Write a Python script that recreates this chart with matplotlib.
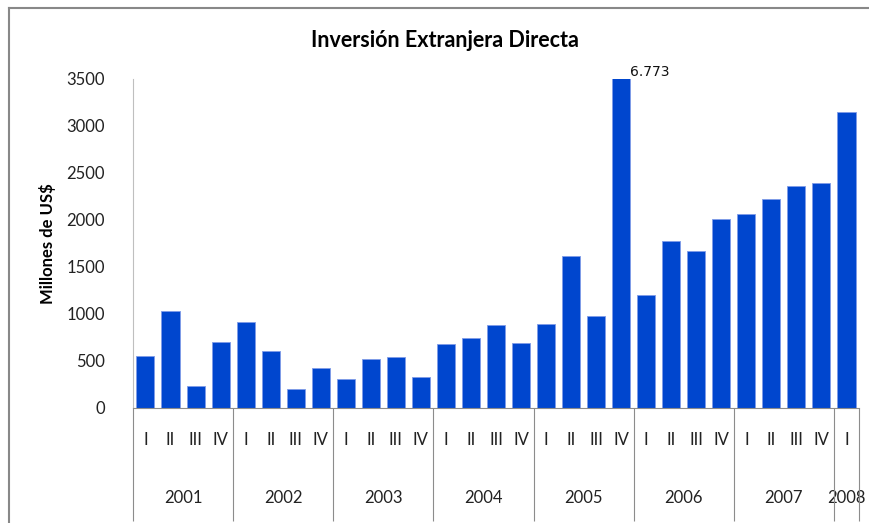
import matplotlib.pyplot as plt
from matplotlib.ticker import FixedLocator

plt.rcParams['font.family'] = ['Lato', 'DejaVu Sans']

# datos trimestrales (millones de US$), 2001-I a 2008-I
years = ['2001', '2002', '2003', '2004', '2005', '2006', '2007', '2008']
quarters = ['I', 'II', 'III', 'IV'] * 7 + ['I']
values = [553, 1037, 230, 705,
          914, 602, 198, 425,
          311, 521, 542, 333,
          684, 747, 882, 694,
          893, 1616, 974, 6773,
          1201, 1781, 1669, 2009,
          2062, 2228, 2360, 2391,
          3146]
peak_label = '6.773'

n = len(values)
x = list(range(n))

fig = plt.figure(figsize=(8.69, 5.23), dpi=100)
ax = fig.add_axes([0.153, 0.2199, 0.8355, 0.6291])

ax.bar(x, values, width=0.72, color='#0046CE', edgecolor='#7f9be8', linewidth=0.6)

ax.set_xlim(-0.5, n - 0.5)
ax.set_ylim(0, 3500)
ax.set_yticks(range(0, 3501, 500))
ax.tick_params(axis='y', length=0, pad=20, labelsize=12, labelcolor='#222222')

# etiqueta de la barra recortada
peak = values.index(max(values))
ax.text(peak + 0.37, 3500, peak_label, fontsize=10, family='DejaVu Sans',
        ha='left', va='bottom', color='#111111')

# trimestres
ax.set_xticks(x)
ax.set_xticklabels(quarters)
ax.tick_params(axis='x', which='major', length=0, pad=17, labelsize=12, labelcolor='#222222')

# lineas divisorias de años
bounds = [i * 4 - 0.5 for i in range(8)] + [n - 0.5]
ax.xaxis.set_minor_locator(FixedLocator(bounds))
ax.tick_params(axis='x', which='minor', length=81, width=0.8, color='#8c8c8c')

# años
centers = [i * 4 + 1.5 for i in range(7)] + [n - 1]
sec = ax.secondary_xaxis('bottom')
sec.set_xticks(centers)
sec.set_xticklabels(years)
sec.tick_params(length=0, pad=59, labelsize=12, labelcolor='#222222')
sec.spines['bottom'].set_visible(False)

for s in ['top', 'right']:
    ax.spines[s].set_visible(False)
ax.spines['left'].set_color('#bfbfbf')
ax.spines['bottom'].set_color('#8c8c8c')

ax.set_ylabel('Millones de US$', fontsize=12, fontweight='bold', labelpad=8)
fig.text(0.512, 0.923, 'Inversión Extranjera Directa', ha='center', va='center',
         fontsize=15.5, fontweight='bold')

# marco del grafico (solo arriba e izquierda visibles)
fig.add_artist(plt.Line2D([0.0104, 0.0104], [0, 0.985], color='#888888', lw=1.5))
fig.add_artist(plt.Line2D([0.0104, 1], [0.985, 0.985], color='#888888', lw=1.5))

fig.savefig('out.png', dpi=100)
